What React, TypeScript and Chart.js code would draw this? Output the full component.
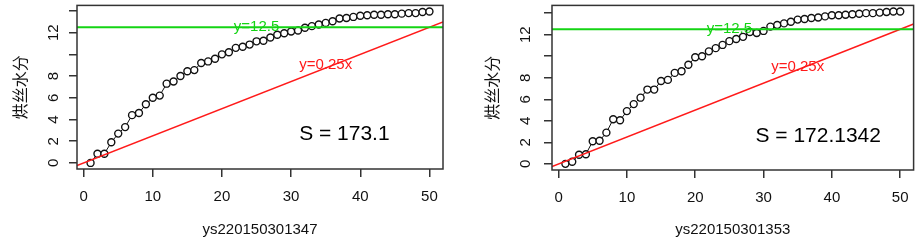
import { useEffect, useRef } from 'react';
import { Chart, registerables } from 'chart.js';

Chart.register(...registerables);

// ---- data ----
const xCategories = [
  1, 2, 3, 4, 5, 6, 7, 8, 9, 10, 11, 12, 13, 14, 15, 16, 17, 18, 19, 20, 21, 22, 23, 24, 25,
  26, 27, 28, 29, 30, 31, 32, 33, 34, 35, 36, 37, 38, 39, 40, 41, 42, 43, 44, 45, 46, 47, 48, 49, 50,
];
const seriesA = [
  0.0, 0.85, 0.85, 1.9, 2.7, 3.3, 4.4, 4.6, 5.4, 6.0,
  6.2, 7.3, 7.5, 8.0, 8.45, 8.55, 9.2, 9.35, 9.6, 10.0,
  10.2, 10.6, 10.7, 10.9, 11.2, 11.25, 11.55, 11.8, 11.95, 12.1,
  12.2, 12.45, 12.6, 12.75, 12.9, 13.05, 13.3, 13.35, 13.45, 13.55,
  13.6, 13.65, 13.65, 13.7, 13.7, 13.75, 13.8, 13.8, 13.9, 13.95,
];
const seriesB = [
  0.0, 0.2, 0.85, 0.9, 2.1, 2.15, 2.9, 4.15, 4.05, 4.9,
  5.55, 6.15, 6.9, 6.9, 7.7, 7.8, 8.45, 8.6, 9.2, 9.9,
  10.0, 10.45, 10.75, 11.05, 11.4, 11.6, 11.8, 12.25, 12.15, 12.35,
  12.75, 12.9, 13.05, 13.2, 13.4, 13.45, 13.55, 13.6, 13.7, 13.8,
  13.8, 13.85, 13.9, 13.95, 14.0, 14.0, 14.05, 14.1, 14.15, 14.15,
];
const xTicks = [0, 10, 20, 30, 40, 50];
const yTicks = [0, 2, 4, 6, 8, 10, 12, 14];
const yTickLabelsShown = [0, 2, 4, 6, 8, 12];
const panelNames = ['ys220150301347', 'ys220150301353'];
const sValues = ['173.1', '172.1342'];
const yTitle = '烘丝水分';
const refLevel = 12.5;
const refSlope = 0.25;
const levelLabel = 'y=12.5';
const slopeLabel = 'y=0.25x';

// ---- styles ----
const FONT = 'Liberation Sans, Arial, sans-serif';
const CJK = 'Noto Sans CJK SC, sans-serif';
const GREEN = '#14d414';
const RED = '#ff1a1a';
const AXIS = '#333333';
const H = 241;

type Panel = {
  left: number;
  width: number;
  area: { l: number; r: number; t: number; b: number };
  xMin: number; xMax: number; yMin: number; yMax: number;
  yTickPad: number;
  yTitlePad: number;
  sX: number;
  values: number[];
  name: string;
  s: string;
};

const panels: Panel[] = [
  {
    left: 0, width: 460,
    area: { l: 77, r: 443, t: 3, b: 169 },
    xMin: -0.96, xMax: 51.96, yMin: -0.56, yMax: 14.51,
    yTickPad: 7.2, yTitlePad: 10.4, sX: 37.7,
    values: seriesA, name: panelNames[0], s: sValues[0],
  },
  {
    left: 460, width: 459,
    area: { l: 92, r: 458, t: 3, b: 170 },
    xMin: -0.96, xMax: 51.96, yMin: -0.57, yMax: 14.72,
    yTickPad: 10.2, yTitlePad: 22.1, sX: 38,
    values: seriesB, name: panelNames[1], s: sValues[1],
  },
];

function makeChart(canvas: HTMLCanvasElement, p: Panel) {
  const annot = {
    id: 'annot',
    afterDatasetsDraw(chart: any) {
      const ctx = chart.ctx;
      const xs = chart.scales.x;
      const ys = chart.scales.y;
      ctx.save();
      ctx.textAlign = 'center';
      ctx.textBaseline = 'middle';
      ctx.font = `15px ${FONT}`;
      ctx.fillStyle = GREEN;
      ctx.fillText(levelLabel, xs.getPixelForValue(25), ys.getPixelForValue(12.5));
      ctx.fillStyle = RED;
      ctx.fillText(slopeLabel, xs.getPixelForValue(35), ys.getPixelForValue(9));
      ctx.fillStyle = '#000';
      ctx.font = `21px ${FONT}`;
      ctx.fillText(`S = ${p.s}`, xs.getPixelForValue(p.sX), ys.getPixelForValue(2.6));
      ctx.restore();
    },
    afterDraw(chart: any) {
      const { left, top, right, bottom } = chart.chartArea;
      const ctx = chart.ctx;
      ctx.save();
      ctx.strokeStyle = AXIS;
      ctx.lineWidth = 1.5;
      ctx.strokeRect(left, top, right - left, bottom - top);
      ctx.restore();
    },
  };

  return new Chart(canvas, {
    type: 'line',
    data: {
      datasets: [
        {
          data: [{ x: p.xMin, y: refLevel }, { x: p.xMax, y: refLevel }],
          borderColor: GREEN, borderWidth: 2, pointRadius: 0,
        },
        {
          data: [{ x: p.xMin, y: refSlope * p.xMin }, { x: p.xMax, y: refSlope * p.xMax }],
          borderColor: RED, borderWidth: 1.5, pointRadius: 0,
        },
        {
          data: xCategories.map((x, i) => ({ x, y: p.values[i] })),
          borderColor: '#111', borderWidth: 1,
          pointRadius: 3.5, pointBorderWidth: 1.4,
          pointBackgroundColor: '#fff', pointBorderColor: '#111',
        },
      ],
    },
    options: {
      animation: false,
      responsive: false,
      events: [],
      layout: { padding: { left: 0, right: p.width - p.area.r, top: p.area.t, bottom: 0 } },
      plugins: { legend: { display: false }, tooltip: { enabled: false } },
      scales: {
        x: {
          type: 'linear', min: p.xMin, max: p.xMax,
          afterBuildTicks: (s: any) => { s.ticks = xTicks.map((v) => ({ value: v })); },
          afterFit: (s: any) => { s.height = H - p.area.b; s.paddingLeft = 0; s.paddingRight = 0; },
          grid: { drawOnChartArea: false, drawTicks: true, tickLength: 8, color: AXIS, lineWidth: 1.5 },
          border: { display: false },
          ticks: { font: { family: FONT, size: 15 }, color: '#111', padding: 11, maxRotation: 0, autoSkip: false },
          title: { display: true, text: p.name, font: { family: FONT, size: 15 }, color: '#111', padding: { top: 0, bottom: 2 } },
        },
        y: {
          type: 'linear', min: p.yMin, max: p.yMax,
          afterBuildTicks: (s: any) => { s.ticks = yTicks.map((v) => ({ value: v })); },
          afterFit: (s: any) => { s.width = p.area.l; s.paddingTop = 0; s.paddingBottom = 0; },
          grid: { drawOnChartArea: false, drawTicks: true, tickLength: 8, color: AXIS, lineWidth: 1.5 },
          border: { display: false },
          ticks: {
            font: { family: FONT, size: 15 }, color: '#111',
            minRotation: 90, maxRotation: 90, crossAlign: 'center',
            padding: p.yTickPad, autoSkip: false,
            callback: (v: any) => (yTickLabelsShown.includes(Number(v)) ? String(v) : ''),
          },
          title: { display: true, text: yTitle, font: { family: CJK, size: 16 }, color: '#111', padding: { top: p.yTitlePad, bottom: 0 } },
        },
      },
    },
    plugins: [annot],
  } as any);
}

export default function App() {
  const r1 = useRef<HTMLCanvasElement>(null);
  const r2 = useRef<HTMLCanvasElement>(null);
  useEffect(() => {
    const charts = [makeChart(r1.current!, panels[0]), makeChart(r2.current!, panels[1])];
    return () => charts.forEach((c) => c.destroy());
  }, []);
  return (
    <div style={{ position: 'absolute', left: 0, top: 0, width: 919, height: H, background: '#fff' }}>
      <canvas ref={r1} width={panels[0].width} height={H} style={{ position: 'absolute', left: panels[0].left, top: 0, width: panels[0].width, height: H }} />
      <canvas ref={r2} width={panels[1].width} height={H} style={{ position: 'absolute', left: panels[1].left, top: 0, width: panels[1].width, height: H }} />
    </div>
  );
}
